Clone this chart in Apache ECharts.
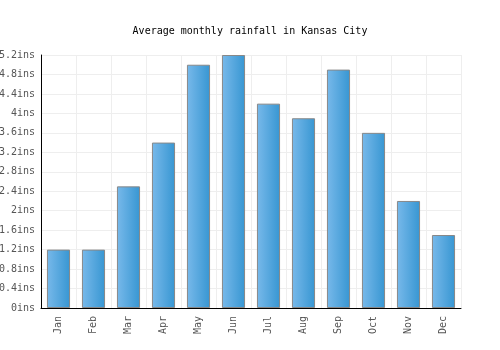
<!DOCTYPE html>
<html>
<head>
<meta charset="utf-8">
<script src="https://cdn.jsdelivr.net/npm/echarts@6/dist/echarts.min.js"></script>
<style>
  html, body { margin: 0; padding: 0; background: #fff; }
  #chart { width: 500px; height: 350px; }
</style>
</head>
<body>
<div id="chart"></div>
<script>
// rainfall data
const months = ['Jan', 'Feb', 'Mar', 'Apr', 'May', 'Jun', 'Jul', 'Aug', 'Sep', 'Oct', 'Nov', 'Dec'];
const rainfall = [1.2, 1.2, 2.5, 3.4, 5.0, 5.2, 4.2, 3.9, 4.9, 3.6, 2.2, 1.5];

const font = '"DejaVu Sans Mono", monospace';
const chart = echarts.init(document.getElementById('chart'));

chart.setOption({
  animation: false,
  title: {
    text: 'Average monthly rainfall in Kansas City',
    left: 'center',
    top: 21,
    textStyle: { fontFamily: font, fontSize: 10, fontWeight: 'normal', color: '#000' },
  },
  grid: { left: 41, right: 39, top: 55, bottom: 42, containLabel: false, outerBoundsMode: 'none' },
  xAxis: {
    type: 'category',
    data: months,
    axisLine: { lineStyle: { color: '#000', width: 1 } },
    axisTick: { show: false },
    axisLabel: { rotate: 90, fontFamily: font, fontSize: 10, color: '#555', margin: 8 },
    splitLine: { show: true, lineStyle: { color: '#eee' } },
  },
  yAxis: {
    type: 'value',
    min: 0,
    max: 5.2,
    interval: 0.4,
    axisLine: { show: true, lineStyle: { color: '#000', width: 1 } },
    axisTick: { show: false },
    axisLabel: {
      fontFamily: font,
      fontSize: 10,
      color: '#555',
      margin: 6,
      formatter: v => +v.toFixed(1) + 'ins',
    },
    splitLine: { lineStyle: { color: '#eee' } },
  },
  series: [{
    type: 'bar',
    data: rainfall,
    barWidth: '66%',
    itemStyle: {
      borderColor: '#888',
      borderWidth: 1,
      color: new echarts.graphic.LinearGradient(0, 0, 1, 0, [
        { offset: 0, color: '#78b9ea' },
        { offset: 1, color: '#3796d2' },
      ]),
    },
  }],
});
</script>
</body>
</html>
